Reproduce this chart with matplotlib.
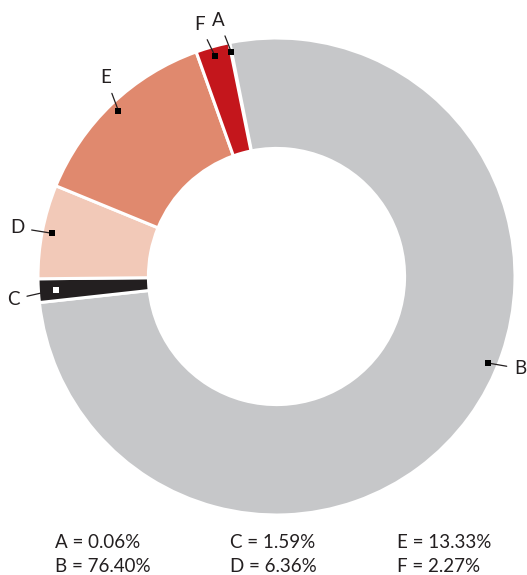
import numpy as np
import matplotlib
matplotlib.use("Agg")
import matplotlib.pyplot as plt

labels = ["A", "B", "C", "D", "E", "F"]
values = [0.06, 76.40, 1.59, 6.36, 13.33, 2.27]
colors = ["#c4161c", "#c6c7c9", "#231f20", "#f2c9b8", "#e0896e", "#c4161c"]
marker_colors = ["black", "black", "white", "black", "black", "black"]

# label offsets from the marker (points) and extra angle shift for the marker
label_offsets = {"A": (-9, 23), "F": (-11, 23), "E": (-9, 24),
                 "D": (-25, 4), "C": (-31, -7), "B": (23, -4)}
angle_shift = {"B": 14}

plt.rcParams['font.family'] = ['Lato', 'DejaVu Sans']

fig = plt.figure(figsize=(5.27, 5.75), dpi=100)
ax = fig.add_axes([38 / 527, 60 / 575, 477 / 527, 477 / 575])

start = 101.5
wedges, _ = ax.pie(values, colors=colors, startangle=start, counterclock=False,
                   radius=1.0,
                   wedgeprops=dict(width=0.463, edgecolor="white", linewidth=2.2))
ax.set_xlim(-1, 1)
ax.set_ylim(-1, 1)
ax.set_aspect("equal")
ax.axis("off")

for w, lab, mc in zip(wedges, labels, marker_colors):
    mid = (w.theta1 + w.theta2) / 2 + angle_shift.get(lab, 0)
    r = 0.96 if lab != "C" else 0.925
    x = r * np.cos(np.radians(mid))
    y = r * np.sin(np.radians(mid))
    dx, dy = label_offsets[lab]
    ax.annotate(lab, xy=(x, y), xytext=(dx, dy), textcoords="offset points",
                ha="center", va="center", fontsize=13.5, color="#231f20",
                annotation_clip=False, zorder=3,
                arrowprops=dict(arrowstyle="-", color="#231f20", lw=0.9,
                                shrinkA=3.5, shrinkB=0))
    ax.plot(x, y, marker="s", markersize=3.8, color=mc, markeredgewidth=0,
            clip_on=False, zorder=6)

col_x = [55, 230, 397]
row_y = [543, 566]
for i, (lab, val) in enumerate(zip(labels, values)):
    cx = col_x[i // 2]
    cy = row_y[i % 2]
    fig.text(cx / 527, 1 - cy / 575, f"{lab} = {val:.2f}%", ha="left",
             va="center", fontsize=13.5, color="#231f20")

fig.savefig("out.png", dpi=100)
